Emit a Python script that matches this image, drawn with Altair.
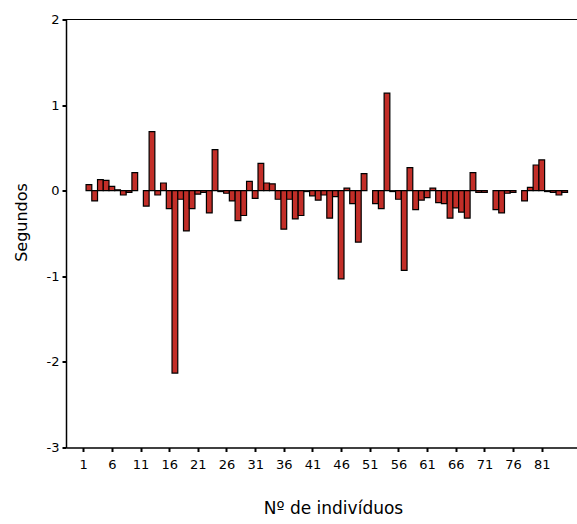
import altair as alt
import pandas as pd

# Residual time (seconds) per individual; None = no observation
individuos = list(range(2, 86))
segundos = [
    0.07, -0.12, 0.13, 0.12, 0.05, 0.01, -0.05, -0.02, 0.21, None,
    -0.18, 0.69, -0.05, 0.09, -0.21, -2.13, -0.10, -0.47, -0.21, -0.04,
    -0.02, -0.26, 0.48, -0.01, -0.03, -0.12, -0.35, -0.29, 0.11, -0.09,
    0.32, 0.09, 0.08, -0.10, -0.45, -0.10, -0.33, -0.29, -0.01, -0.06,
    -0.11, -0.05, -0.32, -0.07, -1.03, 0.03, -0.15, -0.60, 0.20, None,
    -0.15, -0.21, 1.14, -0.01, -0.10, -0.93, 0.27, -0.22, -0.11, -0.08,
    0.03, -0.14, -0.15, -0.32, -0.20, -0.25, -0.32, 0.21, -0.02, -0.02,
    None, -0.22, -0.26, -0.03, -0.02, None, -0.12, 0.04, 0.30, 0.36,
    -0.01, -0.02, -0.05, -0.02,
]

x_ticks = list(range(1, 82, 5))
y_ticks = [-3, -2, -1, 0, 1, 2]
frame_top = [2]

df = pd.DataFrame({"individuo": individuos, "segundos": segundos}).dropna()

FONT = "DejaVu Sans"

x_scale = alt.Scale(domain=[-2, 87.15], nice=False, zero=False)
y_scale = alt.Scale(domain=[-3, 2], nice=False)

bars = (
    alt.Chart(df)
    .transform_calculate(x0="datum.individuo - 0.5", x1="datum.individuo + 0.5")
    .mark_bar(color="#c22e28", stroke="black", strokeWidth=1.2)
    .encode(
        x=alt.X(
            "x0:Q",
            scale=x_scale,
            axis=alt.Axis(
                values=x_ticks,
                format="d",
                title="Nº de indivíduos",
                titleX=267,
                titleY=65.5,
                titleAlign="center",
                titleBaseline="alphabetic",
                titleFontSize=17,
                labelPadding=7,
            ),
        ),
        x2="x1:Q",
        y=alt.Y(
            "segundos:Q",
            scale=y_scale,
            axis=alt.Axis(
                values=y_ticks,
                labelExpr="'' + datum.value",
                title="Segundos",
                titleX=-40,
                titleY=202.5,
                titleAlign="center",
                titleBaseline="alphabetic",
                titleAngle=270,
                titleFontSize=16,
                labelPadding=3,
            ),
        ),
        y2=alt.datum(0),
    )
)

top_line = (
    alt.Chart(pd.DataFrame({"y": frame_top}))
    .mark_rule(color="black", strokeWidth=1)
    .encode(y=alt.Y("y:Q", scale=y_scale))
)

chart = (
    alt.layer(bars, top_line)
    .properties(
        width=511,
        height=428,
        autosize=alt.AutoSizeParams(type="none"),
        padding={"left": 66, "top": 19.5, "right": 0, "bottom": 76.5},
        background="white",
    )
    .configure_view(stroke=None)
    .configure_axis(
        grid=False,
        domainColor="black",
        domainWidth=1.5,
        tickColor="black",
        tickWidth=2,
        tickSize=4,
        labelFont=FONT,
        labelFontSize=13,
        labelColor="black",
        titleFont=FONT,
        titleColor="black",
        titleFontWeight="normal",
    )
)

chart.save("out.html", embed_options={"renderer": "svg", "actions": False})
